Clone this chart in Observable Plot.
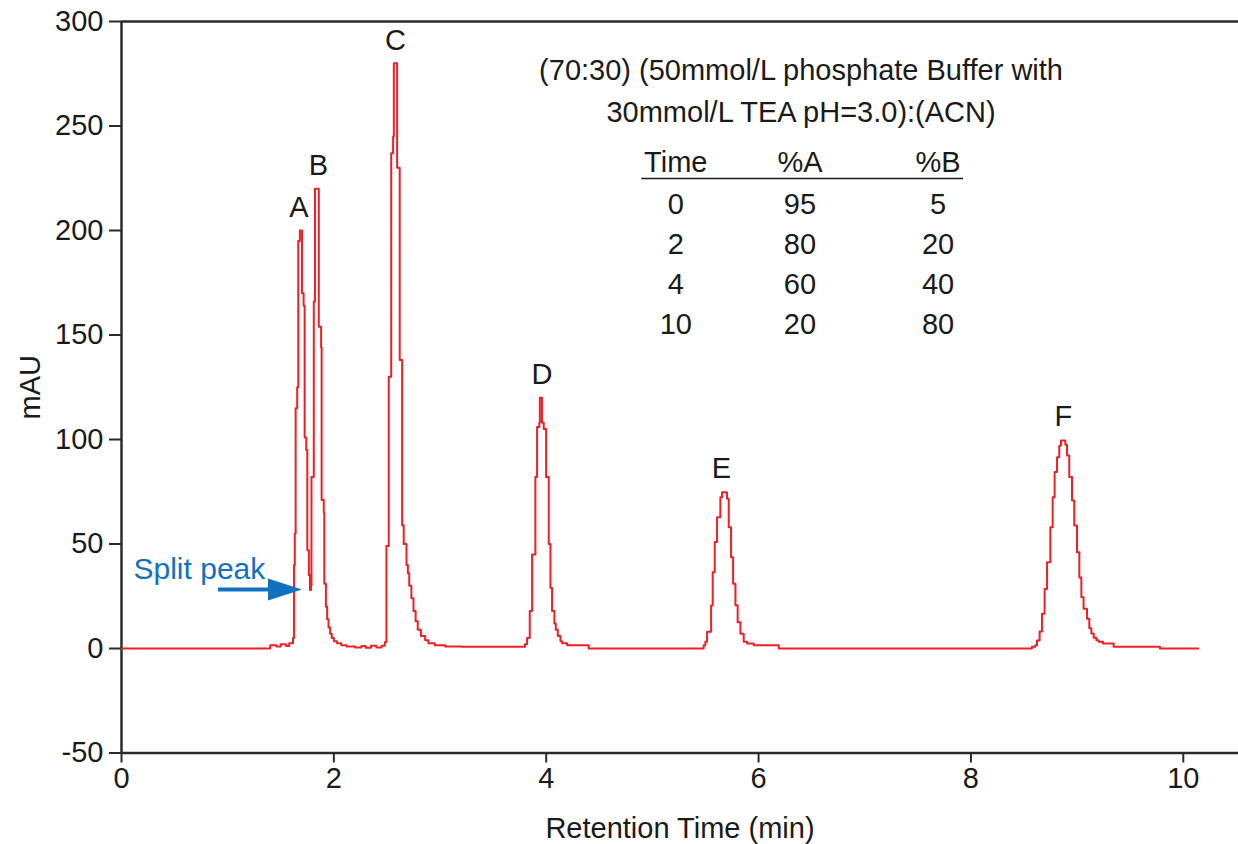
<!DOCTYPE html>
<html>
<head>
<meta charset="utf-8">
<script src="https://cdn.jsdelivr.net/npm/d3@7"></script>
<script src="https://cdn.jsdelivr.net/npm/@observablehq/plot@0.6"></script>
<style>
  html, body { margin: 0; padding: 0; background: #ffffff; }
  #chart svg { display: block; }
</style>
</head>
<body>
<div id="chart"></div>
<script>
// Chromatogram trace (retention time in min, absorbance in mAU), step-after samples
const time = [
  0, 1.40, 1.46, 1.50, 1.55, 1.58, 1.615, 1.625, 1.632, 1.64, 1.655, 1.665, 1.68,
  1.70, 1.715, 1.725, 1.74, 1.75, 1.765, 1.775, 1.785, 1.789, 1.811, 1.822,
  1.858, 1.88, 1.885, 1.905, 1.91, 1.925, 1.937, 1.95, 1.965, 1.98, 2.0, 2.03, 2.07, 2.12,
  2.2, 2.26, 2.30, 2.35, 2.40, 2.45,
  2.48, 2.495, 2.517, 2.54, 2.558, 2.565, 2.596, 2.62, 2.643, 2.658, 2.684, 2.697, 2.71,
  2.73, 2.75, 2.77, 2.79, 2.82, 2.86, 2.89, 2.95, 3.05, 3.2,
  3.80, 3.82, 3.845, 3.867, 3.898, 3.914, 3.935, 3.94, 3.96, 3.977, 3.999, 4.024, 4.04,
  4.055, 4.077, 4.09, 4.109, 4.134, 4.15, 4.197, 4.40,
  5.483, 5.499, 5.515, 5.553, 5.568, 5.587, 5.609, 5.640, 5.656, 5.703, 5.719, 5.741,
  5.760, 5.782, 5.803, 5.829, 5.860, 5.892, 5.954, 6.19,
  8.575, 8.606, 8.622, 8.647, 8.669, 8.694, 8.717, 8.748, 8.770, 8.788, 8.811, 8.832,
  8.848, 8.889, 8.905, 8.926, 8.952, 8.973, 8.999, 9.021, 9.040, 9.061, 9.093, 9.115,
  9.134, 9.156, 9.181, 9.203, 9.244, 9.344, 9.78, 10.14
];
const mAU = [
  0, 1.5, 1, 2, 1.2, 2.5, 5, 40, 55, 115, 125, 195, 200,
  170, 164, 101, 95, 47, 35, 28, 30, 82, 166, 220,
  154, 144, 71, 65, 31, 20, 14, 10, 7, 5, 3.5, 2.5, 1.5, 1,
  0.5, 1.2, 0.3, 1.3, 0.5, 1.3,
  3, 49, 130, 237, 245, 280, 230, 138, 59, 50, 40, 36, 30,
  24, 18, 13, 9, 6, 4, 2.5, 1.5, 1, 0.8,
  2, 5, 18, 45, 82, 106, 108, 120, 108, 105, 82, 50, 29,
  18, 12, 9, 6, 3.5, 2.5, 1.5, 0,
  1.6, 3.2, 8, 20.6, 36.5, 50.9, 62.8, 72.4, 74.8, 71.6, 58, 43.7,
  31, 20.7, 12.6, 7, 3.2, 2.4, 1.6, 0,
  0.8, 1.6, 3.8, 8.1, 16.6, 28.5, 41.3, 58, 72.4, 84.4, 91.5, 97,
  99.5, 97.5, 92.3, 82, 70.8, 58.8, 46, 34, 24.5, 19, 14.2, 9.7,
  7.2, 5.2, 4, 3.2, 2.4, 0.8, 0, 0
];

// Peak labels
const peakNames = ["A", "B", "C", "D", "E", "F"];
const peakTimes = [1.67, 1.855, 2.58, 3.96, 5.65, 8.87];
const peakHeights = [200, 220, 280, 120, 75, 100];

// Mobile phase annotation and gradient table
const phaseLines = ["(70:30) (50mmol/L phosphate Buffer with", "30mmol/L TEA pH=3.0):(ACN)"];
const gradHeader = ["Time", "%A", "%B"];
const gradTime = [0, 2, 4, 10];
const gradA = [95, 80, 60, 20];
const gradB = [5, 20, 40, 80];

// Axis ticks
const xTicks = [0, 2, 4, 6, 8, 10];
const yTicks = [-50, 0, 50, 100, 150, 200, 250, 300];

const trace = time.map((t, i) => ({t, v: mAU[i]}));
const peaks = peakNames.map((name, i) => ({name, t: peakTimes[i], v: peakHeights[i]}));

// table layout (data coordinates)
const colX = [5.22, 6.39, 7.69];
const rowY0 = 212.4, rowStep = 19.1;
const tableCells = [];
gradTime.forEach((g, i) => {
  [g, gradA[i], gradB[i]].forEach((val, j) => tableCells.push({x: colX[j], y: rowY0 - i * rowStep, label: String(val)}));
});
const headerCells = gradHeader.map((h, j) => ({x: colX[j], y: 232.5, label: h}));
const phaseCells = phaseLines.map((s, i) => ({x: 6.40, y: 276.6 - i * 20.1, label: s}));

const blue = "#1271bf";
const red = "#ee1f27";
const axisColor = "#2b2b2b";

const arrowHead = {
  draw(ctx) {
    ctx.moveTo(17, 0);
    ctx.lineTo(-17, -11);
    ctx.lineTo(-17, 11);
    ctx.closePath();
  }
};

const chart = Plot.plot({
  width: 1238,
  height: 844,
  marginLeft: 121,
  marginRight: 0,
  marginTop: 21,
  marginBottom: 91.5,
  style: {fontFamily: "'Liberation Sans', Arial, sans-serif", fontSize: "29px", color: "#1a1a1a", background: "#ffffff"},
  x: {domain: [0, 10.52]},
  y: {domain: [-50, 300]},
  marks: [
    Plot.axisX({ticks: xTicks, tickSize: 10, tickPadding: 4, stroke: axisColor, strokeWidth: 2,
      label: "Retention Time (min)", labelAnchor: "center", labelArrow: "none", labelOffset: 85}),
    Plot.axisY({ticks: yTicks, tickSize: 12, tickPadding: 6, stroke: axisColor, strokeWidth: 2,
      tickFormat: d => String(d),
      label: "mAU", labelAnchor: "center", labelArrow: "none", labelOffset: 102}),
    Plot.ruleX([0], {stroke: axisColor, strokeWidth: 2.5}),
    Plot.ruleY([-50, 300], {stroke: axisColor, strokeWidth: 2.5}),
    Plot.line(trace, {x: "t", y: "v", curve: "step-after", stroke: red, strokeWidth: 2}),
    Plot.text(peaks, {x: "t", y: "v", text: "name", dy: -23, fill: "#1a1a1a"}),
    Plot.text(phaseCells, {x: "x", y: "y", text: "label", fill: "#1a1a1a"}),
    Plot.text(headerCells, {x: "x", y: "y", text: "label", fill: "#1a1a1a"}),
    Plot.ruleY([224.9], {x1: 4.90, x2: 7.93, stroke: "#1a1a1a", strokeWidth: 1.5}),
    Plot.text(tableCells, {x: "x", y: "y", text: "label", fill: "#1a1a1a"}),
    Plot.text([{x: 0.113, y: 37.8, label: "Split peak"}], {x: "x", y: "y", text: "label", textAnchor: "start", fill: blue, fontSize: 30}),
    Plot.ruleY([28.2], {x1: 0.913, x2: 1.40, stroke: blue, strokeWidth: 4}),
    Plot.dot([{x: 1.54, y: 28.2}], {x: "x", y: "y", symbol: arrowHead, r: 10, fill: blue, stroke: "none"})
  ]
});
document.getElementById("chart").appendChild(chart);
</script>
</body>
</html>
